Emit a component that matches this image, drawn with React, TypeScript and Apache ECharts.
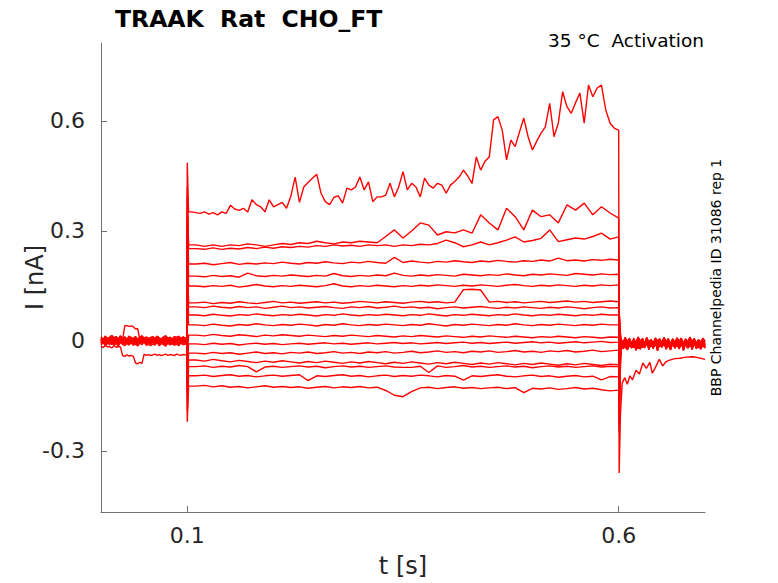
import React, { useEffect, useRef } from "react";
import * as echarts from "echarts";

// ---- axes ----
const xTicks = [0.1, 0.6];
const yTicks = [-0.3, 0, 0.3, 0.6];
const X_MIN = 0;
const X_MAX = 0.7;
const Y_MIN = -0.4664;
const Y_MAX = 0.8127;

const titleText = "TRAAK  Rat  CHO_FT";
const cornerText = "35 °C  Activation";
const sideText = "BBP Channelpedia ID 31086 rep 1";
const xName = "t [s]";
const yName = "I [nA]";

// ---- sampling (s) ----
const PRE_DT = 0.0025; // pre-pulse samples start at 0
const POST_T0 = 0.6025;
const POST_DT = 0.0025;
const STEP_T0 = 0.11;
const STEP_DT = 0.01;
const TOP_T0 = 0.105;
const TOP_DT = 0.005;

// ---- values in pA (1/1000 nA) ----
// pre-pulse holding current patterns
const pre0 = [3,-4,6,-2,5,-6,2,7,-3,4,-5,6,1,-4,5,-2,6,-5,3,-1,4,-6,5,-3,2,-5,6,-2,4,-4,7,-3,5,-6,2,-1,6,-4,3,-2];
const pre1 = [-6,2,-8,-1,-5,3,-7,-2,-9,1,-4,-8,-2,-6,0,-7,-3,-9,-1,-5,2,-7,-4,-8,-3,-6,1,-8,-2,-5,-9,-1,-6,2,-7,-3,-8,0,-5,-4];
const pre2 = [8,1,10,3,7,12,5,9,2,11,4,8,0,10,6,3,9,1,7,11,4,8,2,6,9,3,10,5,1,8,11,4,7,2,9,6,10,3,8,5];
const preS1 = [2,-3,4,-1,3,-4,1,-2,4,-3,2,41,42,40,41,39,33,34,3,-2,4,-3,1,-4,3,-1,2,-3,4,-2,1,-4,3,-1,2,-3,4,-2,1,0];
const preS2 = [-14,-18,-12,-16,-15,-19,-13,-17,-15,-16,-40,-42,-38,-41,-39,-42,-60,-62,-58,-61,-36,-39,-37,-40,-38,-36,-39,-37,-40,-38,-36,-39,-37,-38,-40,-36,-38,-39,-37,-38];

// step plateaus
const topPlateau = [
  352,350,348,352,346,350,344,352,348,370,
  360,356,362,352,385,372,366,352,385,366,
  372,378,362,395,447,378,420,432,444,455,
  403,380,372,392,396,376,417,412,420,447,
  412,434,380,393,393,398,430,393,420,462,
  412,430,420,393,444,425,417,430,425,403,
  425,435,447,466,450,430,502,466,490,502,
  603,612,575,494,548,530,570,608,557,521,
  545,567,584,648,557,594,680,639,621,650,
  676,594,698,666,690,698,630,594,580,575,
];
const plateauA = [262,258,262,258,262,260,265,262,258,262,266,263,268,266,272,268,265,270,268,272,270,268,285,303,281,300,322,316,289,298,295,303,294,344,322,303,362,339,303,357,339,344,322,371,357,376,344,366,349,335];
const plateauB = [252,250,254,250,253,251,255,252,256,253,257,255,258,256,260,258,262,259,261,258,262,260,262,258,262,260,264,262,266,275,268,257,262,270,262,268,275,284,270,274,280,303,271,276,281,278,285,294,278,284];
const plateauC = [210,212,208,211,214,209,212,210,213,211,215,212,210,214,212,216,213,211,215,213,217,214,212,228,214,218,215,213,217,215,219,216,214,218,216,220,217,215,219,217,221,218,226,219,221,218,222,220,223,221];
const plateauD = [177,175,179,176,178,174,185,178,176,179,177,180,178,176,179,177,184,178,176,179,177,180,178,185,179,177,180,178,181,179,177,182,180,178,181,179,183,180,178,182,180,183,181,179,184,182,180,183,181,182];
const plateauE = [150,148,151,149,152,147,150,154,150,148,151,149,152,150,148,151,156,150,148,151,149,152,150,148,151,149,152,150,153,151,149,152,150,153,151,149,152,154,151,149,152,150,153,151,149,152,150,153,151,153];
const plateauF = [104,106,102,105,103,107,104,102,105,108,104,106,103,105,107,104,106,103,105,108,106,104,107,105,103,106,108,105,107,104,106,140,141,139,106,108,105,107,104,106,108,105,107,109,106,108,105,107,109,107];
const plateauG = [93,91,95,92,90,94,91,93,89,92,95,91,93,90,92,94,91,89,93,91,94,90,92,95,91,93,90,92,88,91,93,90,92,94,91,89,92,90,93,91,89,92,90,93,91,88,91,93,90,91];
const plateauH = [71,69,73,70,68,72,70,74,71,69,72,70,73,71,68,72,70,74,71,69,72,70,73,71,69,72,70,74,71,68,72,70,73,71,69,72,70,74,71,69,72,70,73,71,69,72,70,73,71,71];
const plateauI = [44,42,46,43,41,45,43,47,44,42,45,43,46,44,41,45,43,47,44,42,45,43,46,44,42,45,43,47,44,41,45,43,46,44,42,45,43,47,44,42,45,43,46,44,42,45,43,46,44,44];
const plateauJ = [16,14,18,15,13,17,15,12,16,14,17,15,13,16,14,12,15,13,16,14,12,15,13,11,14,12,15,13,11,14,12,10,13,11,14,12,10,13,11,9,12,10,13,11,9,12,10,8,11,10];
const plateauK = [-8,-10,-6,-9,-7,-11,-8,-6,-9,-7,-10,-8,-6,-9,-7,-5,-8,-6,-9,-7,-5,-8,-6,-4,-7,-5,-8,-6,-4,-7,-5,-3,-6,-4,-7,-5,-3,-6,-4,-2,-5,-3,-6,-4,-2,-5,-3,-1,-4,-3];
const plateauL = [-33,-35,-31,-34,-32,-36,-33,-30,-34,-32,-35,-31,-33,-30,-34,-32,-29,-33,-31,-34,-30,-32,-29,-33,-31,-28,-32,-30,-27,-31,-29,-32,-28,-30,-27,-31,-29,-26,-30,-28,-31,-27,-29,-26,-30,-28,-25,-29,-27,-25];
const plateauM = [-52,-55,-50,-54,-57,-53,-56,-59,-55,-58,-54,-57,-60,-56,-59,-55,-58,-61,-57,-60,-56,-59,-62,-58,-61,-57,-60,-63,-59,-62,-58,-61,-64,-60,-63,-59,-62,-65,-61,-64,-60,-63,-66,-62,-65,-61,-64,-67,-63,-65];
const plateauN = [-70,-68,-72,-69,-71,-67,-70,-84,-71,-69,-72,-70,-68,-71,-69,-73,-70,-68,-71,-69,-72,-70,-68,-71,-72,-72,-69,-86,-68,-72,-70,-67,-71,-69,-72,-70,-68,-71,-69,-73,-70,-68,-71,-69,-72,-70,-68,-71,-69,-70];
const plateauO = [-95,-93,-97,-94,-92,-96,-94,-98,-95,-93,-96,-94,-92,-108,-95,-97,-94,-92,-96,-94,-98,-95,-93,-97,-94,-96,-93,-95,-98,-94,-96,-107,-95,-97,-94,-92,-96,-98,-95,-93,-97,-95,-99,-96,-94,-98,-96,-106,-97,-98];
const plateauP = [-123,-121,-125,-122,-126,-124,-128,-125,-122,-126,-124,-127,-125,-129,-126,-124,-128,-125,-127,-124,-128,-126,-135,-148,-152,-138,-128,-126,-130,-127,-125,-129,-127,-130,-128,-126,-130,-127,-141,-129,-131,-128,-132,-130,-127,-131,-129,-133,-136,-134];

// capacitive transients at step on / off
const onPeaks = [486, 420, 400, 340, 310, 290, 240, 220, 170, 120, -40, -70, -100, -130, -150, -190, -220];
const offPeaks = [-360, -250, -230, -200, -180, -160, -120, -110, -90, -60, 30, 40, 50, 60, 70, 80, 90];
const preLevels = [0, 2, -3, 4, -1, 3, -4, 1, -2, 0, 0, -3, 2, -5, 3, -1, 1];
const postLevels = [0, -4, -8, 2, -6, -10, -2, -5, 0, -7, -3, -9, -1, -6, -4, -8, -2];

// post-pulse patterns
const post0 = [4,-6,8,-3,6,-9,3,-5,9,-2,5,-8,7,-4,2,-7,6,-1,4,-6,8,-3,5,-9,3,-5,7,-2,6,-8,4,-4,9,-3,5,-7,2,-5,6,-2];
const post1 = [-10,-3,-13,-6,-9,-2,-12,-7,-14,-4,-11,-8,-3,-12,-6,-10,-2,-13,-7,-9,-4,-11,-6,-14,-3,-10,-7,-12,-5,-9,-2,-13,-6,-11,-4,-8,-12,-3,-10,-6];
const post2 = [6,-12,9,-15,3,-10,8,-16,5,-13,7,-9,10,-14,4,-11,8,-17,6,-8,9,-13,3,-15,7,-10,5,-12,8,-16,4,-9,10,-14,6,-11,3,-13,7,-10];

// slow tail of the largest sweep after the step
const tailT = [0.602,0.604,0.607,0.61,0.613,0.616,0.62,0.624,0.628,0.632,0.636,0.639,0.643,0.647,0.651,0.655,0.659,0.665,0.671,0.678,0.686,0.693,0.7];
const tailV = [-200,-115,-100,-118,-95,-106,-80,-90,-60,-75,-58,-88,-70,-50,-68,-56,-52,-48,-47,-44,-43,-46,-50];

const plateaus = [topPlateau, plateauA, plateauB, plateauC, plateauD, plateauE, plateauF, plateauG, plateauH, plateauI, plateauJ, plateauK, plateauL, plateauM, plateauN, plateauO, plateauP];

type Pt = [number, number];

function buildTrace(i: number): Pt[] {
  const pts: Pt[] = [];
  const pre = i === 0 ? preS2 : i === 10 ? preS1 : [pre0, pre1, pre2][i % 3];
  const lvl = preLevels[i];
  pre.forEach((v, k) => pts.push([k * PRE_DT, (v + lvl) / 1000]));
  pts.push([0.0995, (pre[pre.length - 1] + lvl) / 1000]);
  pts.push([0.1, onPeaks[i] / 1000]);
  const step = plateaus[i];
  pts.push([0.1015, step[0] / 1000]);
  const t0 = i === 0 ? TOP_T0 : STEP_T0;
  const dt = i === 0 ? TOP_DT : STEP_DT;
  step.forEach((v, k) => pts.push([t0 + k * dt, v / 1000]));
  pts.push([0.6005, offPeaks[i] / 1000]);
  if (i === 0) {
    tailT.forEach((t, k) => pts.push([t, tailV[k] / 1000]));
  } else {
    const post = [post0, post1, post2][i % 3];
    const pl = postLevels[i];
    post.forEach((v, k) => pts.push([POST_T0 + k * POST_DT, (v + pl) / 1000]));
  }
  return pts;
}

const FONT = '"DejaVu Sans", "Noto Sans", sans-serif';

export default function App() {
  const ref = useRef<HTMLDivElement>(null);
  useEffect(() => {
    if (!ref.current) return;
    const chart = echarts.init(ref.current, undefined, { renderer: "svg" });
    const series = plateaus.map((_, i) => ({
      type: "line",
      data: buildTrace(i),
      showSymbol: false,
      symbol: "none",
      silent: true,
      clip: true,
      lineStyle: { color: "#ff0000", width: 1.4 },
      emphasis: { disabled: true },
    }));
    const axisCol = "#707070";
    const option: any = {
      animation: false,
      backgroundColor: "#ffffff",
      grid: { left: 101, right: 73, top: 43, bottom: 71, containLabel: false },
      xAxis: {
        type: "value",
        min: X_MIN,
        max: X_MAX,
        splitLine: { show: false },
        axisLine: { show: true, onZero: false, lineStyle: { color: axisCol, width: 1 } },
        axisTick: { show: true, inside: true, length: 6, customValues: xTicks, lineStyle: { color: axisCol, width: 1 } },
        axisLabel: {
          customValues: xTicks,
          margin: 12,
          fontSize: 22,
          fontFamily: FONT,
          color: "#262626",
          formatter: (v: number) => String(v),
        },
      },
      yAxis: {
        type: "value",
        min: Y_MIN,
        max: Y_MAX,
        splitLine: { show: false },
        axisLine: { show: true, onZero: false, lineStyle: { color: axisCol, width: 1 } },
        axisTick: { show: true, inside: true, length: 6, customValues: yTicks, lineStyle: { color: axisCol, width: 1 } },
        axisLabel: {
          customValues: yTicks,
          margin: 16,
          fontSize: 22,
          fontFamily: FONT,
          color: "#262626",
          formatter: (v: number) => String(v),
        },
      },
      series,
      graphic: [
        {
          type: "text",
          x: 115,
          y: 18.5,
          style: { text: titleText, font: `bold 23.5px ${FONT}`, fill: "#000000", textAlign: "left", textVerticalAlign: "middle" },
        },
        {
          type: "text",
          x: 704,
          y: 40,
          style: { text: cornerText, font: `18.5px ${FONT}`, fill: "#000000", textAlign: "right", textVerticalAlign: "middle" },
        },
        {
          type: "text",
          x: 716,
          y: 277.5,
          rotation: Math.PI / 2,
          style: { text: sideText, font: `14px ${FONT}`, fill: "#000000", textAlign: "center", textVerticalAlign: "middle" },
        },
        {
          type: "text",
          x: 403,
          y: 566,
          style: { text: xName, font: `24px ${FONT}`, fill: "#262626", textAlign: "center", textVerticalAlign: "middle" },
        },
        {
          type: "text",
          x: 35,
          y: 277.5,
          rotation: Math.PI / 2,
          style: { text: yName, font: `24px ${FONT}`, fill: "#262626", textAlign: "center", textVerticalAlign: "middle" },
        },
      ],
    };
    chart.setOption(option);
    return () => chart.dispose();
  }, []);
  return (
    <div
      ref={ref}
      style={{ position: "fixed", left: 0, top: 0, width: 778, height: 583, background: "#ffffff" }}
    />
  );
}
